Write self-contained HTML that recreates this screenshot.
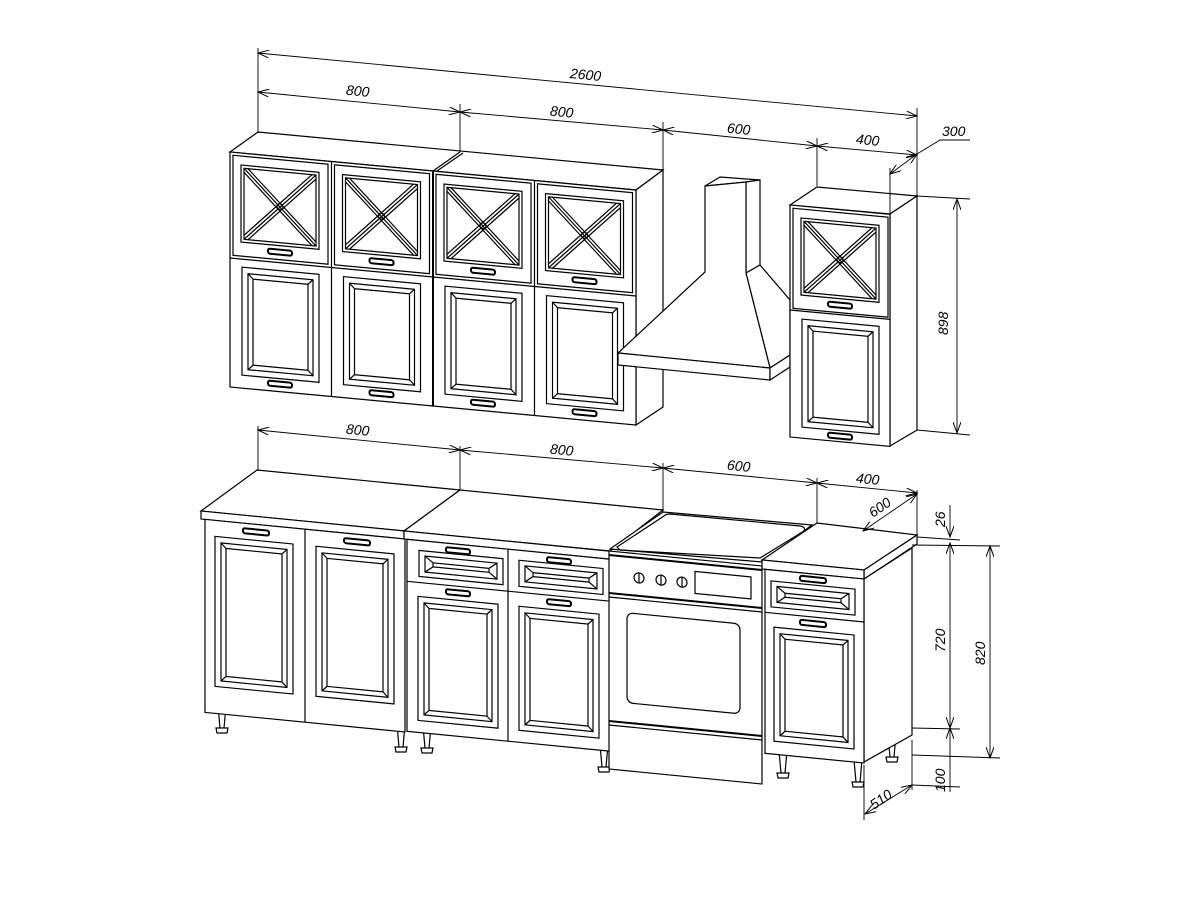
<!DOCTYPE html>
<html><head><meta charset="utf-8"><style>
html,body{margin:0;padding:0;background:#fff;}
svg{display:block;}
text{font-family:"Liberation Sans",sans-serif;font-style:italic;font-size:14px;fill:#000;}
</style></head><body>
<svg width="1200" height="900" viewBox="0 0 1200 900" xmlns="http://www.w3.org/2000/svg">
<defs>
<marker id="a" markerWidth="12" markerHeight="8" refX="11" refY="4" orient="auto-start-reverse" markerUnits="userSpaceOnUse">
<path d="M0,0 L11,4 L0,8" fill="none" stroke="#000" stroke-width="1"/></marker>
<g id="gdoor">
<rect x="3" y="3" width="95" height="100" fill="none"/>
<rect x="11" y="12" width="78" height="77" fill="none"/>
<rect x="14" y="15" width="72" height="71" fill="none"/>
<path d="M14,15 L86,86 M86,15 L14,86 M18,15 L86,82 M14,19 L82,86 M82,15 L14,82 M86,19 L18,86"/>
<circle cx="50" cy="50" r="3"/>
<rect x="38" y="93" width="24" height="5" rx="2" stroke-width="2"/>
</g>
<g id="pdoor">
<rect x="12" y="14" width="77" height="108" fill="none"/>
<rect x="18" y="20" width="65" height="96" fill="none"/>
<rect x="23" y="25" width="55" height="86" fill="none"/>
<path d="M18,20 L23,25 M83,20 L78,25 M18,116 L23,111 M83,116 L78,111"/>
<rect x="38" y="125" width="24" height="5" rx="2" stroke-width="2"/>
</g>
<g id="ldoor">
<rect x="10" y="14" width="78" height="150" fill="none"/>
<rect x="16" y="20" width="66" height="138" fill="none"/>
<rect x="21" y="25" width="56" height="128" fill="none"/>
<path d="M16,20 L21,25 M82,20 L77,25 M16,158 L21,153 M82,158 L77,153"/>
</g>
<g id="sdoor">
<rect x="10" y="0" width="80" height="124" fill="none"/>
<rect x="16" y="6" width="68" height="112" fill="none"/>
<rect x="21" y="11" width="58" height="102" fill="none"/>
<path d="M16,6 L21,11 M84,6 L79,11 M16,118 L21,113 M84,118 L79,113"/>
</g>
<g id="rdoor">
<rect x="10" y="0" width="80" height="114" fill="none"/>
<rect x="16" y="6" width="68" height="102" fill="none"/>
<rect x="21" y="11" width="58" height="92" fill="none"/>
<path d="M16,6 L21,11 M84,6 L79,11 M16,108 L21,103 M84,108 L79,103"/>
</g>
<g id="drawer">
<rect x="8" y="6" width="84" height="26" fill="none"/>
<rect x="14" y="11" width="72" height="16" fill="none"/>
<path d="M14,11 L22,17 L78,17 L86,11 M14,27 L22,21 L78,21 L86,27 M22,17 L22,21 M78,17 L78,21"/>
</g>
<g id="leg"><path d="M-4,0 L-2,22 L2,22 L4,0 Z M-6,22 L6,22 L5,27 L-5,27 Z" fill="#fff"/></g>
</defs>

<g stroke="#000" stroke-width="1.2" fill="none">
<!-- ===== UPPER CABINETS ===== -->
<polygon points="230,152 258,132 663,170 636,190" fill="#fff"/>
<line x1="433" y1="171" x2="460" y2="152"/>
<line x1="437" y1="171" x2="463" y2="153"/>
<polygon points="636,190 663,170 663,407 636,425" fill="#fff"/>
<g transform="translate(230,152) skewY(5.35)">
<rect x="0" y="0" width="406" height="235" fill="#fff"/>
<line x1="0" y1="106" x2="406" y2="106"/>
<line x1="101.5" y1="0" x2="101.5" y2="235"/><line x1="203" y1="0" x2="203" y2="235" stroke-width="2"/><line x1="304.5" y1="0" x2="304.5" y2="235"/>
<use href="#gdoor" x="0"/><use href="#gdoor" x="101.5"/><use href="#gdoor" x="203"/><use href="#gdoor" x="304.5"/>
<use href="#pdoor" x="0" y="100"/><use href="#pdoor" x="101.5" y="100"/><use href="#pdoor" x="203" y="100"/><use href="#pdoor" x="304.5" y="100"/>
</g>

<!-- HOOD -->
<polygon points="705,186 720,177 760,180 746,182" fill="#fff"/>
<polygon points="746,182 760,180 760,265 746,273" fill="#fff"/>
<polygon points="746,273 760,265 790,300 790,355 770,368" fill="#fff"/>
<polygon points="705,186 746,182 746,273 770,368 618,353 705,272" fill="#fff"/>
<polygon points="618,353 770,368 770,380 618,365" fill="#fff"/>
<polygon points="770,368 790,355 790,367 770,380" fill="#fff"/>

<!-- RIGHT WALL CABINET -->
<polygon points="790,205 817,187 917,196 890,214" fill="#fff"/>
<polygon points="890,214 917,196 917,430 890,446" fill="#fff"/>
<g transform="translate(790,205) skewY(5.35)">
<rect x="0" y="0" width="100" height="232" fill="#fff"/>
<line x1="0" y1="105" x2="100" y2="105"/>
<use href="#gdoor" x="0" y="0"/>
<use href="#pdoor" x="0" y="99"/>
</g>

<!-- ===== LOWER ===== -->
<use href="#leg" x="222" y="706"/><use href="#leg" x="401" y="725"/>
<use href="#leg" x="427" y="726"/><use href="#leg" x="604" y="745"/>
<use href="#leg" x="783" y="751"/><use href="#leg" x="858" y="760"/><use href="#leg" x="892" y="735"/>

<!-- cab 1 -->
<polygon points="201,511 257,470 460,490 404,531" fill="#fff"/>
<g transform="translate(201,511) skewY(5.6)">
<rect x="0" y="0" width="203" height="8" fill="#fff"/>
<rect x="4" y="8" width="200" height="193" fill="#fff"/>
<line x1="104" y1="8" x2="104" y2="201"/>
<use href="#ldoor" x="4" y="10"/><use href="#ldoor" x="105" y="10"/>
<rect x="42" y="13" width="26" height="5" rx="2" stroke-width="2"/>
<rect x="143" y="13" width="26" height="5" rx="2" stroke-width="2"/>
</g>
<!-- cab 2 -->
<polygon points="404,531 460,490 663,510 610,551" fill="#fff"/>
<g transform="translate(404,531) skewY(5.6)">
<rect x="0" y="0" width="206" height="8" fill="#fff"/>
<rect x="3" y="8" width="203" height="192" fill="#fff"/>
<line x1="104" y1="8" x2="104" y2="200"/>
<line x1="3" y1="50" x2="206" y2="50"/>
<use href="#drawer" x="7" y="12"/><use href="#drawer" x="107" y="12"/>
<rect x="42" y="12" width="24" height="5" rx="2" stroke-width="2"/>
<rect x="143" y="12" width="24" height="5" rx="2" stroke-width="2"/>
<rect x="42" y="54" width="24" height="5" rx="2" stroke-width="2"/>
<rect x="143" y="54" width="24" height="5" rx="2" stroke-width="2"/>
<use href="#sdoor" x="4" y="64"/><use href="#sdoor" x="105" y="64"/>
</g>
<!-- stove -->
<polygon points="610,549 663,512 812,525 762,562" fill="#fff"/>
<path d="M617,547 L664,516 Q666,514 670,514 L800,526 Q806,527 804,531 L760,558 L620,550 Z"/>
<g transform="translate(609,551) skewY(5.6)">
<rect x="0" y="0" width="153" height="218" fill="#fff"/>
<line x1="0" y1="4" x2="153" y2="4" stroke-width="2"/>
<line x1="0" y1="42" x2="153" y2="42" stroke-width="2"/><line x1="0" y1="46" x2="153" y2="46"/>
<circle cx="30" cy="24" r="5"/><circle cx="52" cy="24" r="5"/><circle cx="73" cy="24" r="5"/>
<path d="M30,19 V29 M52,19 V29 M73,19 V29"/>
<rect x="86" y="12" width="56" height="22"/>
<rect x="18" y="60" width="113" height="90" rx="6"/>
<line x1="0" y1="170" x2="153" y2="170" stroke-width="2"/><line x1="0" y1="174" x2="153" y2="174"/>
</g>
<!-- right cab -->
<polygon points="762,560 817,523 917,535 864,570" fill="#fff"/>
<polygon points="864,570 917,535 917,544 864,579" fill="#fff"/>
<polygon points="864,579 912,548 912,735 864,762" fill="#fff"/>
<g transform="translate(762,560) skewY(5.6)">
<rect x="0" y="0" width="102" height="9" fill="#fff"/>
<rect x="3" y="9" width="99" height="184" fill="#fff"/>
<line x1="3" y1="52" x2="102" y2="52"/>
<use href="#drawer" x="1" y="14"/>
<rect x="38" y="12" width="26" height="5" rx="2" stroke-width="2"/>
<rect x="38" y="56" width="26" height="5" rx="2" stroke-width="2"/>
<use href="#rdoor" x="2" y="66"/>
</g>

<!-- ===== DIMENSIONS ===== -->
<g stroke-width="0.9">
<line x1="258" y1="48" x2="258" y2="133"/>
<line x1="460" y1="104" x2="460" y2="152"/>
<line x1="663" y1="122" x2="663" y2="170"/>
<line x1="817" y1="138" x2="817" y2="186"/>
<line x1="917" y1="108" x2="917" y2="196"/>
<line x1="890" y1="168" x2="890" y2="214"/>
<line x1="258" y1="53" x2="917" y2="116" marker-start="url(#a)" marker-end="url(#a)"/>
<line x1="258" y1="92" x2="460" y2="112" marker-start="url(#a)" marker-end="url(#a)"/>
<line x1="460" y1="112" x2="663" y2="130" marker-start="url(#a)" marker-end="url(#a)"/>
<line x1="663" y1="130" x2="817" y2="146" marker-start="url(#a)" marker-end="url(#a)"/>
<line x1="817" y1="146" x2="917" y2="155" marker-start="url(#a)" marker-end="url(#a)"/>
<line x1="890" y1="174" x2="917" y2="154" marker-start="url(#a)" marker-end="url(#a)"/>
<polyline points="917,154 940,140 970,140"/>
<line x1="917" y1="196" x2="970" y2="199"/>
<line x1="917" y1="430" x2="970" y2="435"/>
<line x1="957" y1="199" x2="957" y2="433" marker-start="url(#a)" marker-end="url(#a)"/>
<line x1="258" y1="426" x2="258" y2="470"/>
<line x1="460" y1="446" x2="460" y2="490"/>
<line x1="663" y1="463" x2="663" y2="512"/>
<line x1="817" y1="478" x2="817" y2="523"/>
<line x1="917" y1="490" x2="917" y2="535"/>
<line x1="258" y1="430" x2="460" y2="450" marker-start="url(#a)" marker-end="url(#a)"/>
<line x1="460" y1="450" x2="663" y2="468" marker-start="url(#a)" marker-end="url(#a)"/>
<line x1="663" y1="468" x2="817" y2="483" marker-start="url(#a)" marker-end="url(#a)"/>
<line x1="817" y1="483" x2="917" y2="493" marker-start="url(#a)" marker-end="url(#a)"/>
<line x1="863" y1="531" x2="917" y2="494" marker-start="url(#a)" marker-end="url(#a)"/>
<line x1="917" y1="537" x2="960" y2="540"/>
<line x1="912" y1="545" x2="1000" y2="546"/>
<line x1="912" y1="728" x2="960" y2="729"/>
<line x1="912" y1="755" x2="1000" y2="758"/>
<line x1="912" y1="785" x2="960" y2="787"/>
<line x1="950" y1="505" x2="950" y2="537" marker-end="url(#a)"/>
<line x1="950" y1="543" x2="950" y2="728" marker-start="url(#a)" marker-end="url(#a)"/>
<line x1="950" y1="728" x2="950" y2="792" marker-start="url(#a)"/>
<line x1="990" y1="546" x2="990" y2="758" marker-start="url(#a)" marker-end="url(#a)"/>
<line x1="864" y1="765" x2="864" y2="820"/>
<line x1="912" y1="740" x2="912" y2="790"/>
<line x1="865" y1="814" x2="912" y2="785" marker-start="url(#a)" marker-end="url(#a)"/>
</g>
</g>

<g>
<text x="570" y="80" transform="rotate(5.5 590 75)">2600</text>
<text x="346" y="96" transform="rotate(5.5 360 92)">800</text>
<text x="550" y="117" transform="rotate(5.5 565 112)">800</text>
<text x="727" y="134" transform="rotate(5.5 741 130)">600</text>
<text x="856" y="145" transform="rotate(5.5 870 140)">400</text>
<text x="942" y="136">300</text>
<text x="0" y="0" transform="translate(948,335) rotate(-90)">898</text>
<text x="346" y="435" transform="rotate(5.5 360 431)">800</text>
<text x="550" y="455" transform="rotate(5.5 565 451)">800</text>
<text x="727" y="471" transform="rotate(5.5 741 467)">600</text>
<text x="856" y="484" transform="rotate(5.5 870 480)">400</text>
<text x="0" y="0" transform="translate(873,518) rotate(-35)">600</text>
<text x="0" y="0" transform="translate(945,527) rotate(-90)">26</text>
<text x="0" y="0" transform="translate(945,652) rotate(-90)">720</text>
<text x="0" y="0" transform="translate(985,665) rotate(-90)">820</text>
<text x="0" y="0" transform="translate(945,792) rotate(-90)">100</text>
<text x="0" y="0" transform="translate(874,810) rotate(-35)">510</text>
</g>
</svg>
</body></html>
